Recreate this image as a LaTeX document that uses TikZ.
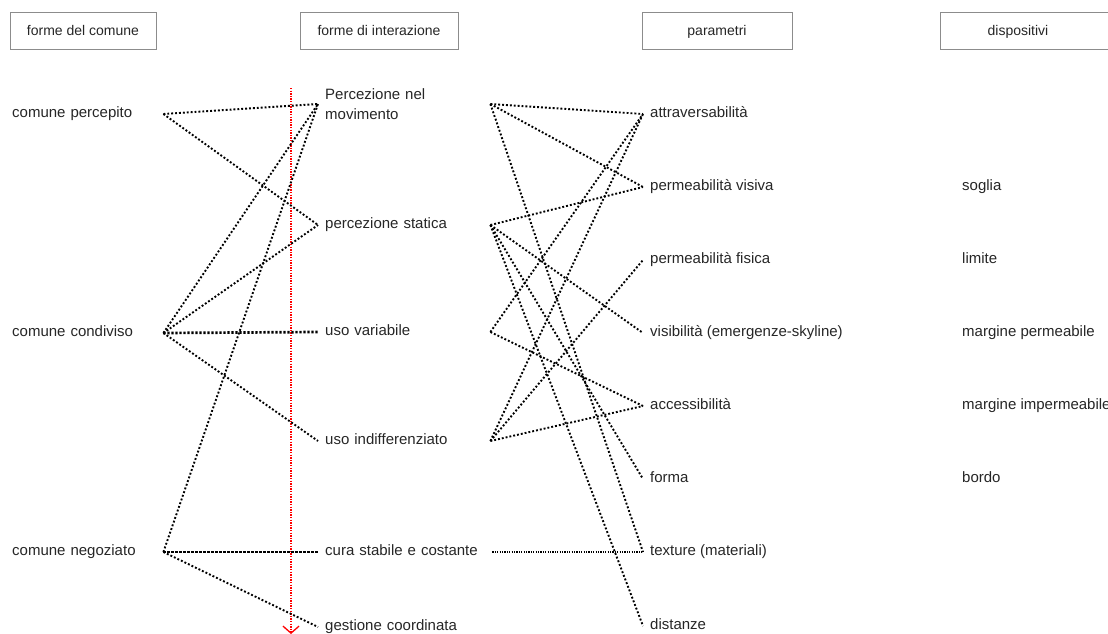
\documentclass[tikz,border=0pt]{standalone}
\usepackage{fontspec}
\setmainfont{Liberation Sans}
\usetikzlibrary{arrows.meta}
\begin{document}
\begin{tikzpicture}[x=1pt,y=-1pt,
  hdr/.style={draw=black!45, line width=0.9pt, minimum height=37pt, inner sep=0pt,
    font=\fontsize{14}{16}\selectfont, text=black!85, text height=10pt, text depth=0pt},
  hdrtxt/.style={inner sep=0pt, font=\fontsize{14}{16}\selectfont, text=black!85,
    text height=10pt, text depth=0pt},
  lbl/.style={anchor=west, inner xsep=7pt, inner ysep=0pt, font=\fontsize{15}{20}\selectfont,
    text=black!85, align=left, text height=10.8pt, text depth=3.2pt},
  lbltwo/.style={anchor=west, inner xsep=7pt, inner ysep=0pt, font=\fontsize{15}{20}\selectfont,
    text=black!85, align=left},
  lk/.style={line width=1.9pt, dash pattern=on 1.9pt off 2pt},
  lkthick/.style={line width=2.7pt, dash pattern=on 2.2pt off 1.8pt},
  lkthin/.style={line width=1.1pt, dash pattern=on 1.1pt off 1.3pt},
  redarrow/.style={draw=red, line width=1.3pt, dash pattern=on 1.3pt off 1.3pt,
    -{Straight Barb[length=7pt,width=16pt,line width=1.3pt]}}
]
\useasboundingbox (0,0) rectangle (1108,634);

% headers
\node[hdr, minimum width=146pt] (h1) at (83,30.5) {forme del comune};
\node[hdr, minimum width=158pt] (h2) at (379,30.5) {forme di interazione};
\node[hdr, minimum width=150pt] (h3) at (717,30.5) {parametri};
\draw[draw=black!45, line width=0.9pt] (940,12) rectangle (1130,49);
\node[hdrtxt] (h4) at (1018,30.5) {dispositivi};

% column 1
\node[lbl, text width=144pt] (cp) at (5,114) {comune percepito};
\node[lbl, text width=144pt] (cc) at (5,333) {comune condiviso};
\node[lbl, text width=144pt] (cn) at (5,552) {comune negoziato};

% column 2
\node[lbltwo, text width=158pt] (pnm) at (318,104) {Percezione nel\\movimento};
\node[lbl, text width=158pt] (ps) at (318,225) {percezione statica};
\node[lbl, text width=158pt] (uv) at (318,332) {uso variabile};
\node[lbl, text width=158pt] (ui) at (318,441) {uso indifferenziato};
\node[lbl, text width=160pt] (cs) at (318,552) {cura stabile e costante};
\node[lbl, text width=158pt] (gc) at (318,627) {gestione coordinata};

% column 3
\node[lbl] (attr) at (643,114) {attraversabilità};
\node[lbl] (pv) at (643,187) {permeabilità visiva};
\node[lbl] (pf) at (643,260) {permeabilità fisica};
\node[lbl] (vis) at (643,333) {visibilità (emergenze-skyline)};
\node[lbl] (acc) at (643,406) {accessibilità};
\node[lbl] (fo) at (643,479) {forma};
\node[lbl] (tex) at (643,552) {texture (materiali)};
\node[lbl] (dist) at (643,626) {distanze};

% column 4
\node[lbl] (so) at (955,187) {soglia};
\node[lbl] (li) at (955,260) {limite};
\node[lbl] (mp) at (955,333) {margine permeabile};
\node[lbl] (mi) at (955,406) {margine impermeabile};
\node[lbl] (bo) at (955,479) {bordo};

% red arrow
\coordinate (rtop) at (291,88);
\coordinate (rbot) at (291,634);
\draw[redarrow] (rtop) -- (rbot);

% left connectors
\draw[lk] (cp.east) -- (pnm.west);
\draw[lk] (cp.east) -- (ps.west);
\draw[lk] (cc.east) -- (pnm.west);
\draw[lk] (cc.east) -- (ps.west);
\draw[lkthick] (cc.east) -- (uv.west);
\draw[lk] (cc.east) -- (ui.west);
\draw[lk] (cn.east) -- (pnm.west);
\draw[lkthick] (cn.east) -- (cs.west);
\draw[lk] (cn.east) -- (gc.west);

% middle connectors
\draw[lk] (pnm.east) -- (attr.west);
\draw[lk] (pnm.east) -- (pv.west);
\draw[lk] (pnm.east) -- (tex.west);
\draw[lk] (ps.east) -- (pv.west);
\draw[lk] (ps.east) -- (vis.west);
\draw[lk] (ps.east) -- (fo.west);
\draw[lk] (ps.east) -- (dist.west);
\draw[lk] (uv.east) -- (attr.west);
\draw[lk] (uv.east) -- (acc.west);
\draw[lk] (ui.east) -- (attr.west);
\draw[lk] (ui.east) -- (pf.west);
\draw[lk] (ui.east) -- (acc.west);
\draw[lkthin] (cs.east) -- (tex.west);
\end{tikzpicture}
\end{document}
